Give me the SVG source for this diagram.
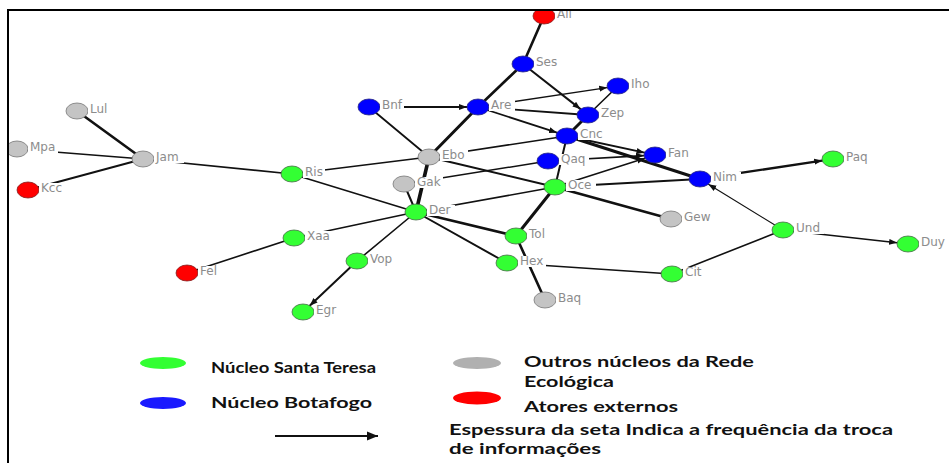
<svg xmlns="http://www.w3.org/2000/svg" width="949" height="463" viewBox="0 0 949 463">
<style>
.e{stroke:#111;fill:none;stroke-linecap:round}
.n{stroke-width:0.8}
.g{fill:#33ff33;stroke:#4a6a4a}
.b{fill:#0000ff;stroke:#2a2a80}
.y{fill:#c4c4c4;stroke:#777}
.r{fill:#ff0000;stroke:#802020}
.lb{fill:#fff}
.lt{font-family:"DejaVu Sans",Verdana,sans-serif;font-size:12px;fill:#8c8c8c}
.leg{font-family:Lato,"Open Sans",sans-serif;font-weight:700;font-size:15.5px;fill:#111}
</style>
<defs>
<marker id="ah" markerUnits="userSpaceOnUse" markerWidth="9" markerHeight="7" refX="8" refY="3.5" orient="auto"><path d="M0,0.5 L8,3.5 L0,6.5 z" fill="#111"/></marker>
<marker id="ahL" markerUnits="userSpaceOnUse" markerWidth="12" markerHeight="10" refX="11" refY="5" orient="auto"><path d="M0,0.5 L11,5 L0,9.5 z" fill="#111"/></marker>
<clipPath id="fr"><rect x="9" y="11" width="940" height="452"/></clipPath>
</defs>
<rect width="949" height="463" fill="#fff"/>
<g id="edges" clip-path="url(#fr)">
<line class="e" x1="544" y1="16" x2="523" y2="64" stroke-width="2.6"/>
<line class="e" x1="523" y1="64" x2="478" y2="107" stroke-width="2.6"/>
<line class="e" x1="523" y1="64" x2="580.5" y2="109.1" stroke-width="2" marker-end="url(#ah)"/>
<line class="e" x1="478" y1="107" x2="607.2" y2="87.6" stroke-width="1.3" marker-end="url(#ah)"/>
<line class="e" x1="369" y1="107" x2="467" y2="107" stroke-width="2" marker-end="url(#ah)"/>
<line class="e" x1="588" y1="115" x2="489" y2="107.8" stroke-width="1.8" marker-end="url(#ah)"/>
<line class="e" x1="478" y1="107" x2="557" y2="132.7" stroke-width="1.8" marker-end="url(#ah)"/>
<line class="e" x1="618" y1="86" x2="588" y2="115" stroke-width="1.6"/>
<line class="e" x1="588" y1="115" x2="567" y2="136" stroke-width="3"/>
<line class="e" x1="369" y1="107" x2="429" y2="157" stroke-width="1.8"/>
<line class="e" x1="478" y1="107" x2="429" y2="157" stroke-width="3"/>
<line class="e" x1="429" y1="157" x2="416" y2="212" stroke-width="3.6"/>
<line class="e" x1="404" y1="184" x2="416" y2="212" stroke-width="2"/>
<line class="e" x1="292" y1="174" x2="429" y2="157" stroke-width="1.6"/>
<line class="e" x1="429" y1="157" x2="567" y2="136" stroke-width="1.6"/>
<line class="e" x1="429" y1="157" x2="555" y2="187" stroke-width="2"/>
<line class="e" x1="404" y1="184" x2="548" y2="161" stroke-width="1.5"/>
<line class="e" x1="567" y1="136" x2="555" y2="187" stroke-width="2"/>
<line class="e" x1="555" y1="187" x2="516" y2="236" stroke-width="3"/>
<line class="e" x1="516" y1="236" x2="545" y2="300" stroke-width="2.6"/>
<line class="e" x1="416" y1="212" x2="555" y2="187" stroke-width="1.6"/>
<line class="e" x1="555" y1="187" x2="671" y2="219" stroke-width="2.6"/>
<line class="e" x1="567" y1="136" x2="700" y2="179" stroke-width="3"/>
<line class="e" x1="555" y1="187" x2="700" y2="179" stroke-width="2"/>
<line class="e" x1="567" y1="136" x2="644.5" y2="152.7" stroke-width="1.8" marker-end="url(#ah)"/>
<line class="e" x1="548" y1="161" x2="644" y2="155.6" stroke-width="1.6" marker-end="url(#ah)"/>
<line class="e" x1="555" y1="187" x2="644.9" y2="158.2" stroke-width="1.5" marker-end="url(#ah)"/>
<line class="e" x1="700" y1="179" x2="822.2" y2="160.6" stroke-width="2.4" marker-end="url(#ah)"/>
<line class="e" x1="783" y1="230" x2="708.4" y2="184.2" stroke-width="1.2" marker-end="url(#ah)"/>
<line class="e" x1="783" y1="230" x2="897.1" y2="242.8" stroke-width="1.5" marker-end="url(#ah)"/>
<line class="e" x1="77" y1="111" x2="143" y2="159" stroke-width="2.6"/>
<line class="e" x1="17" y1="149" x2="143" y2="159" stroke-width="1.5"/>
<line class="e" x1="28" y1="190" x2="143" y2="159" stroke-width="2"/>
<line class="e" x1="143" y1="159" x2="292" y2="174" stroke-width="1.6"/>
<line class="e" x1="292" y1="174" x2="416" y2="212" stroke-width="1.6"/>
<line class="e" x1="294" y1="238" x2="416" y2="212" stroke-width="1.6"/>
<line class="e" x1="187" y1="273" x2="294" y2="238" stroke-width="1.6"/>
<line class="e" x1="357" y1="261" x2="416" y2="212" stroke-width="1.6"/>
<line class="e" x1="357" y1="261" x2="309.7" y2="305.7" stroke-width="2" marker-end="url(#ah)"/>
<line class="e" x1="416" y1="212" x2="516" y2="236" stroke-width="2.6"/>
<line class="e" x1="416" y1="212" x2="507" y2="263" stroke-width="2"/>
<line class="e" x1="507" y1="263" x2="672" y2="274" stroke-width="1.5"/>
<line class="e" x1="672" y1="274" x2="783" y2="230" stroke-width="1.6"/>
</g>
<g clip-path="url(#fr)">
<g id="node-All"><ellipse class="n r" cx="544" cy="16" rx="11" ry="8"/><rect class="lb" x="555" y="8" width="20" height="11"/><text class="lt" x="557" y="18">All</text></g>
<g id="node-Ses"><ellipse class="n b" cx="523" cy="64" rx="11" ry="8"/><rect class="lb" x="534" y="57" width="26" height="11"/><text class="lt" x="536" y="66">Ses</text></g>
<g id="node-Iho"><ellipse class="n b" cx="618" cy="86" rx="11" ry="8"/><rect class="lb" x="629" y="79" width="24" height="11"/><text class="lt" x="631" y="88">Iho</text></g>
<g id="node-Bnf"><ellipse class="n b" cx="369" cy="107" rx="11" ry="8"/><rect class="lb" x="380" y="100" width="24" height="11"/><text class="lt" x="382" y="109">Bnf</text></g>
<g id="node-Are"><ellipse class="n b" cx="478" cy="107" rx="11" ry="8"/><rect class="lb" x="489" y="100" width="26" height="11"/><text class="lt" x="491" y="109">Are</text></g>
<g id="node-Zep"><ellipse class="n b" cx="588" cy="115" rx="11" ry="8"/><rect class="lb" x="599" y="108" width="28" height="11"/><text class="lt" x="601" y="117">Zep</text></g>
<g id="node-Cnc"><ellipse class="n b" cx="567" cy="136" rx="11" ry="8"/><rect class="lb" x="578" y="129" width="28" height="11"/><text class="lt" x="580" y="138">Cnc</text></g>
<g id="node-Lul"><ellipse class="n y" cx="77" cy="111" rx="11" ry="8"/><rect class="lb" x="88" y="104" width="22" height="11"/><text class="lt" x="90" y="113">Lul</text></g>
<g id="node-Mpa"><ellipse class="n y" cx="17" cy="149" rx="11" ry="8"/><rect class="lb" x="28" y="142" width="30" height="11"/><text class="lt" x="30" y="151">Mpa</text></g>
<g id="node-Jam"><ellipse class="n y" cx="143" cy="159" rx="11" ry="8"/><rect class="lb" x="154" y="152" width="30" height="11"/><text class="lt" x="156" y="161">Jam</text></g>
<g id="node-Kcc"><ellipse class="n r" cx="28" cy="190" rx="11" ry="8"/><rect class="lb" x="39" y="183" width="26" height="11"/><text class="lt" x="41" y="192">Kcc</text></g>
<g id="node-Ris"><ellipse class="n g" cx="292" cy="174" rx="11" ry="8"/><rect class="lb" x="303" y="167" width="22" height="11"/><text class="lt" x="305" y="176">Ris</text></g>
<g id="node-Ebo"><ellipse class="n y" cx="429" cy="157" rx="11" ry="8"/><rect class="lb" x="440" y="150" width="28" height="11"/><text class="lt" x="442" y="159">Ebo</text></g>
<g id="node-Qaq"><ellipse class="n b" cx="548" cy="161" rx="11" ry="8"/><rect class="lb" x="559" y="154" width="30" height="11"/><text class="lt" x="561" y="163">Qaq</text></g>
<g id="node-Fan"><ellipse class="n b" cx="655" cy="155" rx="11" ry="8"/><rect class="lb" x="666" y="148" width="26" height="11"/><text class="lt" x="668" y="157">Fan</text></g>
<g id="node-Gak"><ellipse class="n y" cx="404" cy="184" rx="11" ry="8"/><rect class="lb" x="415" y="177" width="28" height="11"/><text class="lt" x="417" y="186">Gak</text></g>
<g id="node-Oce"><ellipse class="n g" cx="555" cy="187" rx="11" ry="8"/><rect class="lb" x="566" y="180" width="30" height="11"/><text class="lt" x="568" y="189">Oce</text></g>
<g id="node-Nim"><ellipse class="n b" cx="700" cy="179" rx="11" ry="8"/><rect class="lb" x="711" y="172" width="30" height="11"/><text class="lt" x="713" y="181">Nim</text></g>
<g id="node-Paq"><ellipse class="n g" cx="833" cy="159" rx="11" ry="8"/><rect class="lb" x="844" y="152" width="30" height="11"/><text class="lt" x="846" y="161">Paq</text></g>
<g id="node-Der"><ellipse class="n g" cx="416" cy="212" rx="11" ry="8"/><rect class="lb" x="427" y="205" width="28" height="11"/><text class="lt" x="429" y="214">Der</text></g>
<g id="node-Gew"><ellipse class="n y" cx="671" cy="219" rx="11" ry="8"/><rect class="lb" x="682" y="212" width="32" height="11"/><text class="lt" x="684" y="221">Gew</text></g>
<g id="node-Xaa"><ellipse class="n g" cx="294" cy="238" rx="11" ry="8"/><rect class="lb" x="305" y="231" width="28" height="11"/><text class="lt" x="307" y="240">Xaa</text></g>
<g id="node-Tol"><ellipse class="n g" cx="516" cy="236" rx="11" ry="8"/><rect class="lb" x="527" y="229" width="24" height="11"/><text class="lt" x="529" y="238">Tol</text></g>
<g id="node-Und"><ellipse class="n g" cx="783" cy="230" rx="11" ry="8"/><rect class="lb" x="794" y="223" width="30" height="11"/><text class="lt" x="796" y="232">Und</text></g>
<g id="node-Duy"><ellipse class="n g" cx="908" cy="244" rx="11" ry="8"/><rect class="lb" x="919" y="237" width="30" height="11"/><text class="lt" x="921" y="246">Duy</text></g>
<g id="node-Vop"><ellipse class="n g" cx="357" cy="261" rx="11" ry="8"/><rect class="lb" x="368" y="254" width="30" height="11"/><text class="lt" x="370" y="263">Vop</text></g>
<g id="node-Fel"><ellipse class="n r" cx="187" cy="273" rx="11" ry="8"/><rect class="lb" x="198" y="266" width="22" height="11"/><text class="lt" x="200" y="275">Fel</text></g>
<g id="node-Hex"><ellipse class="n g" cx="507" cy="263" rx="11" ry="8"/><rect class="lb" x="518" y="256" width="28" height="11"/><text class="lt" x="520" y="265">Hex</text></g>
<g id="node-Cit"><ellipse class="n g" cx="672" cy="274" rx="11" ry="8"/><rect class="lb" x="683" y="267" width="22" height="11"/><text class="lt" x="685" y="276">Cit</text></g>
<g id="node-Baq"><ellipse class="n y" cx="545" cy="300" rx="11" ry="8"/><rect class="lb" x="556" y="293" width="30" height="11"/><text class="lt" x="558" y="302">Baq</text></g>
<g id="node-Egr"><ellipse class="n g" cx="303" cy="312" rx="11" ry="8"/><rect class="lb" x="314" y="305" width="26" height="11"/><text class="lt" x="316" y="314">Egr</text></g>
</g>
<path d="M8,463 V10 H949" fill="none" stroke="#000" stroke-width="2"/>
<g id="legend">
<ellipse cx="163" cy="363" rx="23" ry="6" fill="#33ff33"/>
<text class="leg" x="211" y="373" textLength="165" lengthAdjust="spacingAndGlyphs">Núcleo Santa Teresa</text>
<ellipse cx="163" cy="403" rx="23" ry="6" fill="#1a1aff"/>
<text class="leg" x="211" y="408" textLength="161" lengthAdjust="spacingAndGlyphs">Núcleo Botafogo</text>
<ellipse cx="477" cy="363" rx="24" ry="6" fill="#b0b0b0"/>
<text class="leg" x="524" y="367" textLength="230" lengthAdjust="spacingAndGlyphs">Outros núcleos da Rede</text>
<text class="leg" x="524" y="387" textLength="90" lengthAdjust="spacingAndGlyphs">Ecológica</text>
<ellipse cx="477" cy="398" rx="24" ry="6.5" fill="#ff0000"/>
<text class="leg" x="524" y="412" textLength="154" lengthAdjust="spacingAndGlyphs">Atores externos</text>
<line x1="275" y1="436" x2="378" y2="436" stroke="#111" stroke-width="2" marker-end="url(#ahL)"/>
<text class="leg" x="449" y="435" textLength="444" lengthAdjust="spacingAndGlyphs">Espessura da seta Indica a frequência da troca</text>
<text class="leg" x="449" y="454" textLength="152" lengthAdjust="spacingAndGlyphs">de informações</text>
</g>
</svg>
